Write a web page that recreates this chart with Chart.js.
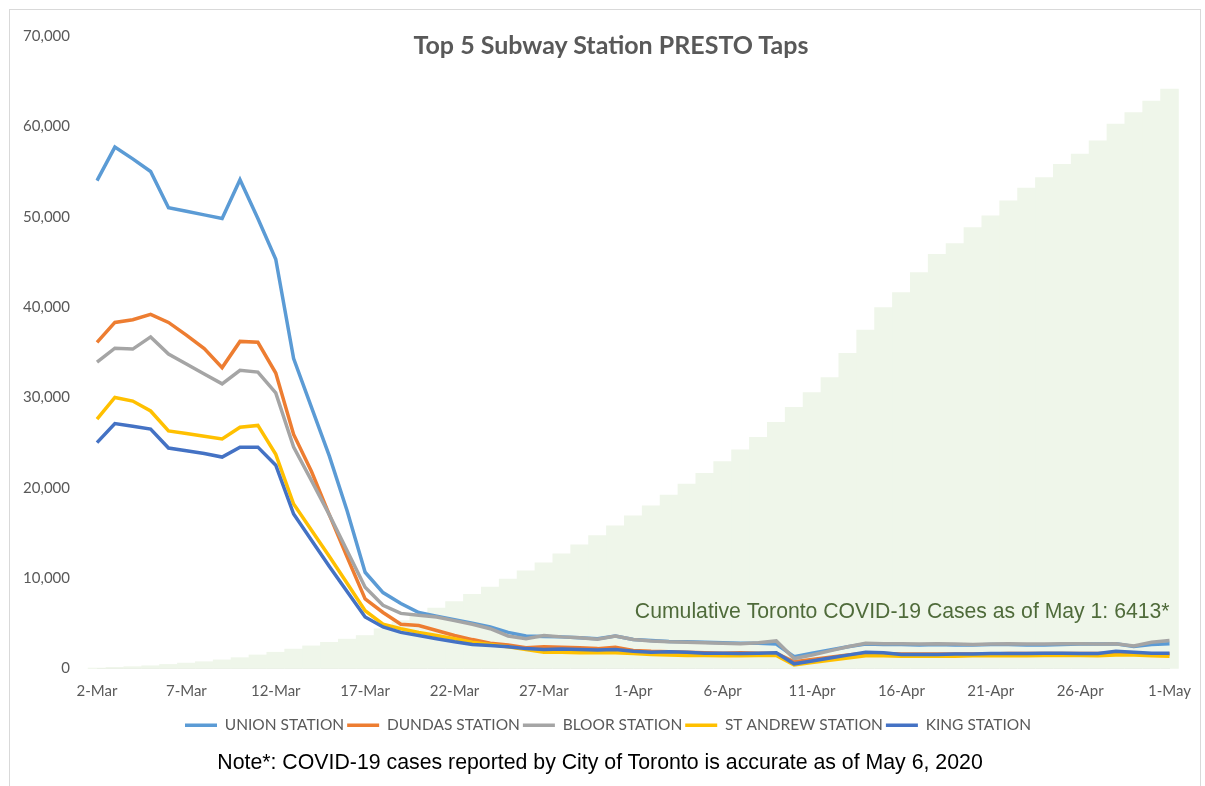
<!DOCTYPE html>
<html>
<head>
<meta charset="utf-8">
<script src="https://cdn.jsdelivr.net/npm/chart.js@4.4.1/dist/chart.umd.min.js"></script>
<style>
  body { margin: 0; background: #ffffff; }
  #wrap { position: relative; width: 1205px; height: 786px; overflow: hidden; }
  #frame { position: absolute; left: 9px; top: 9px; width: 1190px; height: 800px; border: 1px solid #d9d9d9; }
  #title { position: absolute; left: 0; top: 29px; width: 1222px; text-align: center;
           font: bold 25px Lato, "Open Sans", sans-serif; color: #595959; }
  #note { position: absolute; left: 0; top: 750px; width: 1200px; text-align: center;
          font: 21.3px "Liberation Sans", Arial, sans-serif; color: #000000; }
  #chart { position: absolute; left: 0; top: 0; }
</style>
</head>
<body>
<div id="wrap">
  <div id="frame"></div>
  <canvas id="chart" width="1205" height="786"></canvas>
  <div id="title">Top 5 Subway Station PRESTO Taps</div>
  <div id="note">Note*: COVID-19 cases reported by City of Toronto is accurate as of May 6, 2020</div>
</div>
<script>
let days = [
    '2-Mar','3-Mar','4-Mar','5-Mar','6-Mar','7-Mar','8-Mar','9-Mar','10-Mar','11-Mar',
    '12-Mar','13-Mar','14-Mar','15-Mar','16-Mar','17-Mar','18-Mar','19-Mar','20-Mar','21-Mar',
    '22-Mar','23-Mar','24-Mar','25-Mar','26-Mar','27-Mar','28-Mar','29-Mar','30-Mar','31-Mar',
    '1-Apr','2-Apr','3-Apr','4-Apr','5-Apr','6-Apr','7-Apr','8-Apr','9-Apr','10-Apr',
    '11-Apr','12-Apr','13-Apr','14-Apr','15-Apr','16-Apr','17-Apr','18-Apr','19-Apr','20-Apr',
    '21-Apr','22-Apr','23-Apr','24-Apr','25-Apr','26-Apr','27-Apr','28-Apr','29-Apr','30-Apr',
    '1-May'
];

let union = [
    54000,57700,56400,55000,51000,50600,50200,49800,54100,49800,
    45300,34300,28900,23500,17400,10650,8400,7200,6200,5800,
    5400,5000,4600,4000,3600,3550,3500,3400,3300,3600,
    3200,3100,3000,2950,2900,2850,2800,2800,2700,1300,
    1700,2050,2400,2700,2650,2650,2600,2650,2600,2600,
    2650,2650,2600,2600,2650,2700,2700,2750,2450,2650,
    2750
];
let dundas = [
    36100,38300,38600,39200,38300,36900,35400,33300,36200,36100,
    32700,25900,21800,17000,12300,7700,6200,4900,4750,4200,
    3650,3200,2800,2600,2300,2400,2350,2300,2200,2350,
    2000,1900,1850,1800,1750,1700,1750,1700,1700,750,
    1000,1250,1500,1700,1650,1600,1600,1600,1600,1600,
    1600,1650,1650,1650,1650,1650,1650,1700,1600,1600,
    1600
];
let bloor = [
    33900,35450,35350,36700,34800,33700,32600,31500,33000,32800,
    30500,24500,20800,17000,13000,9000,7000,6100,5900,5700,
    5300,4900,4400,3600,3300,3650,3500,3400,3250,3600,
    3200,3050,2950,2900,2850,2800,2750,2850,3050,1100,
    1500,1950,2400,2800,2750,2750,2700,2750,2700,2650,
    2700,2750,2700,2700,2750,2750,2700,2750,2500,2900,
    3100
];
let stAndrew = [
    27600,30000,29600,28500,26300,26000,25700,25400,26700,26900,
    23700,18200,15300,12400,9400,6400,4900,4400,4000,3650,
    3300,2900,2650,2400,2100,1800,1800,1750,1750,1750,
    1650,1550,1500,1450,1450,1400,1400,1450,1450,400,
    650,900,1150,1400,1400,1350,1350,1350,1350,1400,
    1400,1400,1400,1450,1450,1450,1400,1500,1500,1400,
    1350
];
let king = [
    25000,27100,26800,26500,24400,24100,23800,23400,24500,24500,
    22500,17100,14200,11300,8500,5700,4600,4000,3650,3300,
    2950,2650,2550,2400,2200,2100,2150,2100,2050,2100,
    1900,1800,1850,1800,1700,1700,1650,1700,1750,520,
    840,1160,1480,1800,1750,1550,1550,1550,1600,1600,
    1650,1650,1650,1700,1700,1650,1650,1900,1800,1700,
    1700
];

// cumulative Toronto COVID-19 cases (drawn as the green steps, secondary axis)
let cases = [
    5,12,20,30,45,60,75,95,120,150,
    180,215,250,290,325,365,440,530,600,670,
    740,820,900,990,1080,1170,1270,1370,1470,1580,
    1690,1800,1920,2040,2160,2290,2420,2558,2724,2890,
    3055,3221,3487,3745,3995,4161,4382,4585,4703,4880,
    5009,5175,5316,5433,5581,5692,5839,6024,6152,6281,
    6413
];

let yTicks = [0, 10000, 20000, 30000, 40000, 50000, 60000, 70000];
let casesLabel = 'Cumulative Toronto COVID-19 Cases as of May 1: 6413*';

function stationLine(label, data, color, order) {
    return {
        type: 'line',
        label: label,
        data: data,
        borderColor: color,
        backgroundColor: color,
        borderWidth: 3.5,
        pointRadius: 0,
        tension: 0,
        order: order,
        yAxisID: 'y'
    };
}

let datasets = [
    stationLine('UNION STATION', union, '#5b9bd5', 5),
    stationLine('DUNDAS STATION', dundas, '#ed7d31', 4),
    stationLine('BLOOR STATION', bloor, '#a5a5a5', 3),
    stationLine('ST ANDREW STATION', stAndrew, '#ffc000', 2),
    stationLine('KING STATION', king, '#4472c4', 1),
    {
        type: 'bar',
        label: 'cases',
        data: cases,
        backgroundColor: '#eff6ea',
        borderWidth: 0,
        barPercentage: 1,
        categoryPercentage: 1,
        clip: false,
        order: 10,
        yAxisID: 'y1'
    }
];

let casesText = {
    id: 'casesText',
    afterLayout(chart) {
        // legend sits a little right of the canvas centre in the original
        chart.legend.left += 22;
        chart.legend.right += 22;
    },
    afterDatasetsDraw(chart) {
        let ctx = chart.ctx;
        ctx.save();
        ctx.font = '21.2px "Liberation Sans", Arial, sans-serif';
        ctx.fillStyle = '#4f6b3a';
        ctx.textAlign = 'right';
        ctx.textBaseline = 'middle';
        ctx.fillText(casesLabel, chart.chartArea.right, chart.scales.y.getPixelForValue(6200));
        ctx.restore();
    }
};

new Chart(document.getElementById('chart'), {
    data: { labels: days, datasets: datasets },
    options: {
        responsive: false,
        devicePixelRatio: 1,
        animation: false,
        layout: { padding: { top: 35, right: 33, bottom: 43, left: 0 } },
        scales: {
            x: {
                offset: false,
                grid: { display: false, drawTicks: false },
                border: { display: true, color: '#d9d9d9', width: 1 },
                ticks: {
                    autoSkip: false,
                    maxRotation: 0,
                    padding: 14,
                    color: '#595959',
                    font: { family: 'Lato', size: 15 },
                    callback: function(value, index) {
                        return index % 5 === 0 ? days[index] : '';
                    }
                }
            },
            y: {
                min: 0,
                max: 70000,
                afterBuildTicks: function(scale) {
                    scale.ticks = yTicks.map(v => ({ value: v }));
                },
                afterFit: function(scale) { scale.width = 97; },
                grid: { display: false, drawTicks: false },
                border: { display: false },
                ticks: {
                    padding: 27,
                    color: '#595959',
                    font: { family: 'Lato', size: 15 },
                    callback: function(value) { return value.toLocaleString('en-US'); }
                }
            },
            y1: {
                display: false,
                min: 0,
                max: 7000
            }
        },
        plugins: {
            title: { display: false },
            tooltip: { enabled: false },
            legend: {
                position: 'bottom',
                labels: {
                    usePointStyle: true,
                    pointStyle: 'line',
                    pointStyleWidth: 32,
                    padding: 3,
                    color: '#595959',
                    font: { family: 'Lato', size: 15.5 },
                    filter: item => item.text !== 'cases',
                    sort: (a, b) => a.datasetIndex - b.datasetIndex
                }
            }
        }
    },
    plugins: [casesText]
});
</script>
</body>
</html>
